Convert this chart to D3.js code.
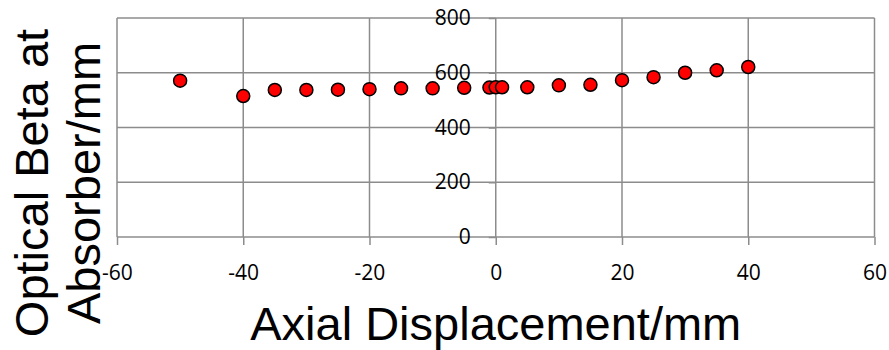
<!DOCTYPE html>
<html>
<head>
<meta charset="utf-8">
<script src="https://cdn.jsdelivr.net/npm/d3@7"></script>
<style>
  body { margin: 0; background: #fff; }
  svg { display: block; }
</style>
</head>
<body>
<div id="chart"></div>
<script>
// Data
const displacement = [-50, -40, -35, -30, -25, -20, -15, -10, -5, -1, 0, 1, 5, 10, 15, 20, 25, 30, 35, 40];
const beta = [571, 515, 537, 537, 538, 540, 543, 543, 545, 546, 547, 547, 547, 554, 556, 573, 584, 600, 609, 621];
const xTicks = [-60, -40, -20, 0, 20, 40, 60];
const yTicks = [0, 200, 400, 600, 800];
const xTitle = "Axial Displacement/mm";
const yTitle = ["Optical Beta at", "Absorber/mm"];

const W = 889;
const H = 350;
const GRID = "#8c8c8c";

const svg = d3.select("#chart").append("svg")
  .attr("width", W)
  .attr("height", H);

svg.append("rect").attr("width", W).attr("height", H).attr("fill", "#fff");

const x = d3.scaleLinear().domain([-60, 60]).range([117, 874.5]);
const y = d3.scaleLinear().domain([0, 800]).range([237, 18]);

// Gridlines
svg.append("g").selectAll("line").data(xTicks).enter().append("line")
  .attr("x1", d => x(d)).attr("x2", d => x(d))
  .attr("y1", y(800)).attr("y2", y(0))
  .attr("stroke", GRID).attr("stroke-width", 1.5);

svg.append("g").selectAll("line").data(yTicks).enter().append("line")
  .attr("x1", x(-60)).attr("x2", x(60))
  .attr("y1", d => y(d)).attr("y2", d => y(d))
  .attr("stroke", GRID).attr("stroke-width", 1.5);

// X axis, crossing at y = 0 (plain hyphen for negatives)
const xAxis = svg.append("g")
  .attr("transform", "translate(0," + y(0) + ")")
  .call(d3.axisBottom(x).tickValues(xTicks).tickFormat(d => String(d)).tickSize(8).tickPadding(20));

// Y axis, crossing at x = 0
const yAxis = svg.append("g")
  .attr("transform", "translate(" + x(0) + ",0)")
  .call(d3.axisLeft(y).tickValues(yTicks).tickFormat(d => String(d)).tickSize(7).tickPadding(18));

[xAxis, yAxis].forEach(function (g) {
  g.select(".domain").remove();
  g.selectAll(".tick line").attr("stroke", GRID).attr("stroke-width", 1.5);
  g.selectAll(".tick text")
    .attr("fill", "#000")
    .style("font-family", "'Open Sans', sans-serif")
    .style("font-size", "21px");
});

// Points
svg.append("g").selectAll("circle").data(displacement).enter().append("circle")
  .attr("cx", d => x(d))
  .attr("cy", (d, i) => y(beta[i]))
  .attr("r", 6.5)
  .attr("fill", "#ff0000")
  .attr("stroke", "#000")
  .attr("stroke-width", 1.5);

// Axis titles
svg.append("text")
  .attr("x", x(0))
  .attr("y", 340)
  .attr("text-anchor", "middle")
  .style("font-family", "'Liberation Sans', Arial, sans-serif")
  .style("font-size", "47px")
  .text(xTitle);

const yt = svg.append("text")
  .attr("transform", "translate(0,183) rotate(-90)")
  .attr("text-anchor", "middle")
  .style("font-family", "'Liberation Sans', Arial, sans-serif")
  .style("font-size", "47px");

yt.selectAll("tspan").data(yTitle).enter().append("tspan")
  .attr("x", 0)
  .attr("y", (d, i) => 48 + i * 52)
  .text(d => d);
</script>
</body>
</html>
